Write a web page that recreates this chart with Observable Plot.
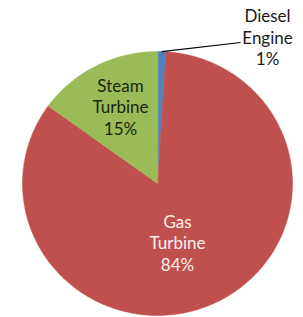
<!DOCTYPE html>
<html><head><meta charset="utf-8">
<script src="https://cdn.jsdelivr.net/npm/d3@7"></script>
<script src="https://cdn.jsdelivr.net/npm/@observablehq/plot@0.6"></script>
<style>body{margin:0;background:#fff;overflow:hidden} svg{display:block}</style>
</head><body><div id="chart"></div>
<script>
const categories = ["Diesel Engine", "Gas Turbine", "Steam Turbine"];
const shares = [1, 84, 15];
const percentLabels = ["1%", "84%", "15%"];
const colors = ["#4F81BD", "#C0504D", "#9BBB59"];
const labelColors = ["#1a1a1a", "#fbeeee", "#1b240f"];
// label centres in pie units (radius = 1)
const labelAt = [[0.815, 1.11], [0.148, -0.447], [-0.274, 0.583]];
const leaderEnd = [0.615, 1.068];

const total = d3.sum(shares);
const slices = [];
const labels = [];
let acc = 0;
categories.forEach((cat, i) => {
  const a0 = acc / total * 2 * Math.PI;
  acc += shares[i];
  const a1 = acc / total * 2 * Math.PI;
  const n = Math.max(2, Math.ceil((a1 - a0) / (Math.PI / 180)));
  slices.push({cat, color: colors[i], x: 0, y: 0});
  for (let k = 0; k <= n; k++) {
    const a = a0 + (a1 - a0) * k / n;
    slices.push({cat, color: colors[i], x: Math.sin(a), y: Math.cos(a)});
  }
  labels.push({
    text: cat.replace(" ", "\n") + "\n" + percentLabels[i],
    color: labelColors[i], x: labelAt[i][0], y: labelAt[i][1],
    mid: (a0 + a1) / 2
  });
});
const leader = [{x1: Math.sin(labels[0].mid), y1: Math.cos(labels[0].mid), x2: leaderEnd[0], y2: leaderEnd[1]}];

const chart = Plot.plot({
  width: 303, height: 317, margin: 0,
  x: {domain: [-1, 1], range: [22, 292], axis: null},
  y: {domain: [-1, 1], range: [315, 51], axis: null},
  color: {type: "identity"},
  style: {background: "#fff"},
  marks: [
    Plot.line(slices, {x: "x", y: "y", z: "cat", fill: "color", stroke: "color", strokeWidth: 0.5, curve: "linear-closed"}),
    Plot.link(leader, {x1: "x1", y1: "y1", x2: "x2", y2: "y2", stroke: "#000", strokeWidth: 1.2}),
    Plot.text(labels, {x: "x", y: "y", text: "text", fill: "color", fontSize: 17, lineHeight: 1.26, fontFamily: "Lato, 'Open Sans', sans-serif"})
  ]
});
document.getElementById("chart").append(chart);
</script>
</body></html>
